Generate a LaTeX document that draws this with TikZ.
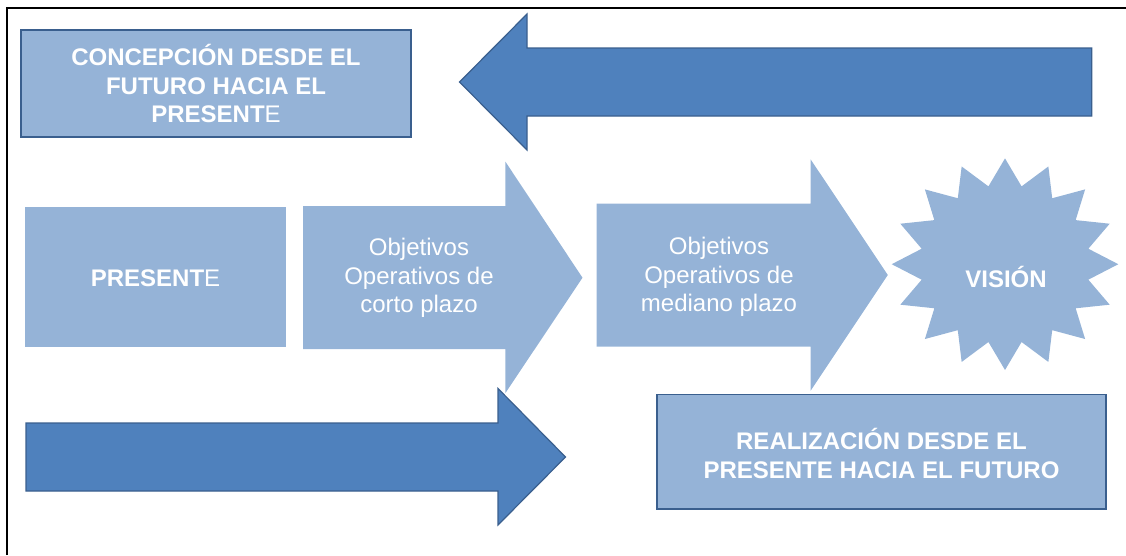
\documentclass[tikz,border=0pt]{standalone}
\usepackage{fontspec}
\setmainfont{Liberation Sans}
\definecolor{lightfill}{HTML}{95B3D7}
\definecolor{darkfill}{HTML}{4F81BD}
\definecolor{darkline}{HTML}{3A5F8E}
\tikzset{
  lightshape/.style={fill=lightfill, draw=none},
  boxshape/.style={fill=lightfill, draw=darkline, line width=1.6pt},
  darkarrow/.style={fill=darkfill, draw=darkline, line width=1.2pt, line join=miter},
  label/.style={text=white, align=center, inner sep=0pt, font=\fontsize{24}{28.5}\selectfont},
  boldlabel/.style={label, font=\fontsize{24}{28.5}\selectfont\bfseries}
}
\begin{document}
\begin{tikzpicture}[x=1pt, y=-1pt]
\useasboundingbox (0,0) rectangle (1126,555);
% frame
\draw[line width=2pt, black] (7,555) -- (7,8.3) -- (1126,8.3);
% light shapes
\fill[lightshape] (25,207) rectangle (286,347);
\fill[lightshape] (303,206) -- (505.4,206) -- (505.4,161.7) -- (582.5,277.7) -- (505.4,393) -- (505.4,349) -- (303,349) -- cycle;
\fill[lightshape] (596.5,203.5) -- (810.6,203.5) -- (810.6,159.3) -- (887.8,275) -- (810.6,390.7) -- (810.6,346.7) -- (596.5,346.7) -- cycle;
\fill[lightshape] plot[samples at={0,1,...,31}] ({1005+113.3*(1-0.25*mod(\x,2))*cos(90+11.25*\x)}, {264.2-105.8*(1-0.25*mod(\x,2))*sin(90+11.25*\x)}) -- cycle;
% boxes with border
\draw[boxshape] (21,30) rectangle (411,137);
\draw[boxshape] (657,394.5) rectangle (1106,509);
% dark arrows
\draw[darkarrow] (1091.7,48) -- (527,48) -- (527,14) -- (459.5,82) -- (527,150) -- (527,116) -- (1091.7,116) -- cycle;
\draw[darkarrow] (26,423) -- (498,423) -- (498,388.5) -- (565.5,457) -- (498,525) -- (498,491) -- (26,491) -- cycle;
% texts
\node[boldlabel] (concep) at (216,83.5) {CONCEPCIÓN DESDE EL\\FUTURO HACIA EL\\PRESENT{\mdseries E}};
\node[boldlabel] (presente) at (155.5,278) {PRESENT{\mdseries E}};
\node[label] (obj1) at (419,278) {Objetivos\\Operativos de\\corto plazo};
\node[label] (obj2) at (719,277) {Objetivos\\Operativos de\\mediano plazo};
\node[boldlabel] (vision) at (1006,277) {VISIÓN};
\node[boldlabel] (realiz) at (881.5,453.5) {REALIZACIÓN DESDE EL\\PRESENTE HACIA EL FUTURO};
\end{tikzpicture}
\end{document}
